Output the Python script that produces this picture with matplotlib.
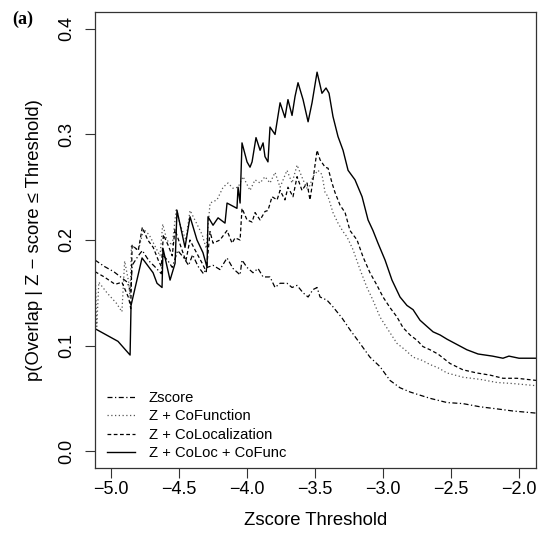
import matplotlib
matplotlib.use('Agg')
import matplotlib.pyplot as plt

plt.rcParams['font.family'] = ['Liberation Sans', 'DejaVu Sans']

# Zscore (dash-dot)
x_z = [-5.118, -5.05, -4.98, -4.93, -4.88, -4.855, -4.845, -4.80, -4.77, -4.72,
       -4.68, -4.63, -4.62, -4.58, -4.55, -4.51, -4.47, -4.43, -4.40, -4.36,
       -4.32, -4.294, -4.250, -4.199, -4.147, -4.103, -4.051, -4.037, -4.000,
       -3.956, -3.919, -3.882, -3.831, -3.794, -3.757, -3.706, -3.669, -3.632,
       -3.588, -3.551, -3.515, -3.485, -3.463, -3.412, -3.37, -3.301, -3.243,
       -3.169, -3.096, -3.022, -2.949, -2.875, -2.801, -2.728, -2.654, -2.529,
       -2.412, -2.287, -2.162, -2.044, -1.875]
y_z = [0.181, 0.175, 0.170, 0.165, 0.160, 0.150, 0.176, 0.185, 0.190, 0.180,
       0.175, 0.168, 0.186, 0.180, 0.174, 0.190, 0.184, 0.176, 0.186, 0.175,
       0.168, 0.174, 0.176, 0.172, 0.183, 0.173, 0.167, 0.181, 0.174,
       0.169, 0.173, 0.165, 0.165, 0.155, 0.159, 0.159, 0.155, 0.157,
       0.150, 0.146, 0.153, 0.155, 0.146, 0.143, 0.137, 0.126, 0.115,
       0.102, 0.089, 0.080, 0.067, 0.060, 0.056, 0.053, 0.050, 0.046,
       0.045, 0.042, 0.040, 0.038, 0.036]

# Z + CoFunction (dotted)
x_f = [-5.118, -5.105, -5.09, -5.03, -4.96, -4.92, -4.90, -4.87, -4.86, -4.85,
       -4.80, -4.76, -4.72, -4.68, -4.64, -4.62, -4.59, -4.55, -4.52, -4.493,
       -4.45, -4.419, -4.368, -4.33, -4.30, -4.272, -4.221, -4.176, -4.140,
       -4.103, -4.066, -4.029, -3.978, -3.941, -3.904, -3.868, -3.831, -3.794,
       -3.757, -3.706, -3.669, -3.632, -3.588, -3.551, -3.515, -3.478, -3.449,
       -3.426, -3.404, -3.368, -3.331, -3.294, -3.265, -3.221, -3.169, -3.118,
       -3.074, -3.022, -2.963, -2.897, -2.838, -2.779, -2.713, -2.654, -2.596,
       -2.529, -2.412, -2.287, -2.162, -2.044, -1.875]
y_f = [0.175, 0.118, 0.160, 0.150, 0.140, 0.132, 0.180, 0.160, 0.145, 0.195,
       0.190, 0.210, 0.205, 0.195, 0.185, 0.215, 0.200, 0.195, 0.230, 0.215,
       0.200, 0.228, 0.215, 0.205, 0.192, 0.235, 0.238, 0.250, 0.254,
       0.249, 0.250, 0.260, 0.247, 0.257, 0.254, 0.260, 0.254, 0.264,
       0.250, 0.266, 0.254, 0.271, 0.257, 0.247, 0.260, 0.266, 0.262,
       0.245, 0.241, 0.226, 0.216, 0.208, 0.203, 0.191, 0.172, 0.155,
       0.143, 0.127, 0.115, 0.102, 0.096, 0.089, 0.086, 0.082, 0.079,
       0.074, 0.070, 0.068, 0.065, 0.064, 0.062]

# Z + CoLocalization (dashed)
x_l = [-5.118, -5.05, -4.97, -4.92, -4.87, -4.855, -4.845, -4.80, -4.77, -4.73,
       -4.69, -4.65, -4.63, -4.615, -4.58, -4.55, -4.53, -4.49, -4.45, -4.42,
       -4.38, -4.33, -4.30, -4.272, -4.250, -4.199, -4.147, -4.110, -4.088,
       -4.051, -4.037, -4.000, -3.963, -3.941, -3.904, -3.868, -3.846, -3.816,
       -3.779, -3.757, -3.721, -3.699, -3.662, -3.632, -3.596, -3.559, -3.537,
       -3.515, -3.485, -3.463, -3.426, -3.404, -3.375, -3.353, -3.316, -3.279,
       -3.243, -3.191, -3.147, -3.096, -3.044, -3.000, -2.949, -2.897, -2.853,
       -2.801, -2.750, -2.706, -2.654, -2.596, -2.507, -2.412, -2.309, -2.213,
       -2.118, -2.015, -1.875]
y_l = [0.170, 0.165, 0.158, 0.160, 0.145, 0.135, 0.195, 0.190, 0.212, 0.200,
       0.193, 0.180, 0.175, 0.205, 0.195, 0.185, 0.210, 0.195, 0.180, 0.200,
       0.190, 0.178, 0.170, 0.208, 0.197, 0.200, 0.209, 0.197, 0.202,
       0.200, 0.230, 0.219, 0.217, 0.226, 0.219, 0.227, 0.228, 0.241,
       0.238, 0.247, 0.238, 0.250, 0.241, 0.260, 0.247, 0.254, 0.238,
       0.257, 0.285, 0.276, 0.269, 0.268, 0.254, 0.245, 0.233, 0.226,
       0.209, 0.200, 0.184, 0.169, 0.157, 0.146, 0.136, 0.127, 0.117,
       0.110, 0.105, 0.099, 0.096, 0.092, 0.083, 0.077, 0.074, 0.072,
       0.069, 0.069, 0.067]

# Z + CoLoc + CoFunc (solid)
x_c = [-5.118, -4.949, -4.860, -4.853, -4.772, -4.691, -4.662, -4.625, -4.618,
       -4.566, -4.529, -4.515, -4.456, -4.419, -4.368, -4.324, -4.294, -4.287,
       -4.250, -4.213, -4.162, -4.147, -4.074, -4.066, -4.051, -4.037, -4.000,
       -3.978, -3.963, -3.934, -3.904, -3.882, -3.868, -3.846, -3.831, -3.794,
       -3.757, -3.721, -3.699, -3.669, -3.647, -3.625, -3.588, -3.551, -3.522,
       -3.485, -3.449, -3.419, -3.397, -3.368, -3.331, -3.294, -3.257, -3.206,
       -3.154, -3.110, -3.074, -3.037, -2.985, -2.934, -2.875, -2.824, -2.779,
       -2.728, -2.676, -2.632, -2.580, -2.529, -2.456, -2.383, -2.301, -2.195,
       -2.118, -2.074, -2.000, -1.875]
y_c = [0.116, 0.104, 0.091, 0.138, 0.183, 0.169, 0.159, 0.155, 0.192,
       0.162, 0.178, 0.228, 0.193, 0.222, 0.200, 0.188, 0.174, 0.222,
       0.214, 0.221, 0.216, 0.235, 0.230, 0.250, 0.235, 0.292, 0.274,
       0.269, 0.274, 0.297, 0.285, 0.292, 0.279, 0.274, 0.307, 0.300,
       0.330, 0.316, 0.333, 0.318, 0.336, 0.349, 0.333, 0.312, 0.330,
       0.359, 0.339, 0.344, 0.339, 0.317, 0.298, 0.285, 0.266, 0.257,
       0.241, 0.219, 0.209, 0.197, 0.181, 0.162, 0.146, 0.138, 0.134,
       0.124, 0.118, 0.113, 0.110, 0.106, 0.101, 0.096, 0.092, 0.090,
       0.088, 0.090, 0.088, 0.088]

labels = ['Zscore', 'Z + CoFunction', 'Z + CoLocalization', 'Z + CoLoc + CoFunc']

fig = plt.figure(figsize=(5.39, 5.39), dpi=100)
ax = fig.add_axes([95 / 539, 1 - 468 / 539, 441 / 539, 456 / 539])

lw = 0.9
ax.plot(x_z, y_z, color='black', lw=lw, linestyle=(0, (4, 2, 1, 2)), label=labels[0])
ax.plot(x_f, y_f, color='#555555', lw=lw, linestyle=(0, (1, 2)), label=labels[1])
ax.plot(x_l, y_l, color='black', lw=lw, linestyle=(0, (3, 2)), label=labels[2])
ax.plot(x_c, y_c, color='black', lw=1.0, linestyle='-', label=labels[3])

ax.set_xlim(-5.118, -1.875)
ax.set_ylim(-0.016, 0.416)
ax.set_xticks([-5.0, -4.5, -4.0, -3.5, -3.0, -2.5, -2.0])
ax.set_xticklabels(['\u22125.0', '\u22124.5', '\u22124.0', '\u22123.5',
                    '\u22123.0', '\u22122.5', '\u22122.0'])
ax.set_yticks([0.0, 0.1, 0.2, 0.3, 0.4])
ax.set_yticklabels(['0.0', '0.1', '0.2', '0.3', '0.4'], rotation=90, va='center')

ax.tick_params(length=7, width=0.8, labelsize=13, color='#333333')
ax.tick_params(axis='x', pad=2)
ax.tick_params(axis='y', pad=7)
for s in ax.spines.values():
    s.set_linewidth(0.9)
    s.set_color('#333333')

ax.set_xlabel('Zscore Threshold', fontsize=13.3)
ax.set_ylabel('p(Overlap | Z \u2212 score \u2264 Threshold)', fontsize=13.3)
ax.xaxis.set_label_coords(0.5, -0.096)
ax.yaxis.set_label_coords(-0.118, 0.5)

ax.legend(loc='lower left', bbox_to_anchor=(0.025, 0.014), frameon=False,
          fontsize=10.6, handlelength=1.9, handletextpad=0.9,
          labelspacing=0.3, borderpad=0.1, borderaxespad=0)

fig.text(12 / 539, 1 - 19 / 539, '(a)', family='Liberation Serif',
         fontweight='bold', fontsize=13, va='center', ha='left')

fig.savefig('out.png', dpi=100)
